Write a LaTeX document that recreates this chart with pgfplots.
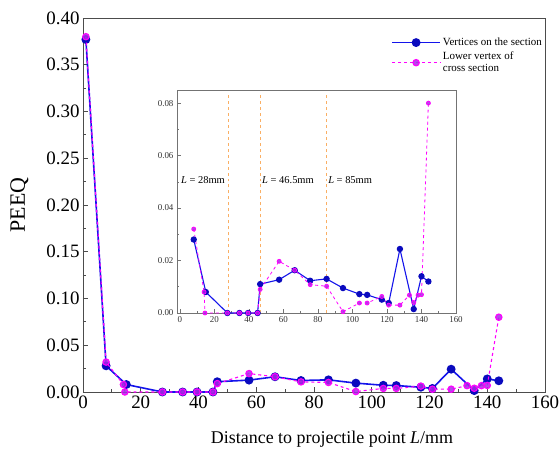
\documentclass[border=0pt]{standalone}
\usepackage{pgfplots}
\pgfplotsset{compat=1.18}
\usepackage{fontspec}
\setmainfont{Liberation Serif}
\definecolor{bluel}{RGB}{20,20,235}
\definecolor{bluem}{RGB}{10,10,190}
\definecolor{magl}{RGB}{255,0,255}
\definecolor{magm}{RGB}{170,40,230}
\definecolor{orl}{RGB}{250,175,100}
\begin{document}
\begin{tikzpicture}
\path[use as bounding box] (-83bp,-58bp) rectangle (477bp,392bp);
\begin{axis}[
  at={(0bp,0bp)}, anchor=south west,
  width=462bp, height=374bp, scale only axis,
  xmin=0, xmax=160, ymin=0, ymax=0.40,
  xtick={0,20,40,60,80,100,120,140,160},
  ytick={0,0.05,0.10,0.15,0.20,0.25,0.30,0.35,0.40},
  minor x tick num=1, minor y tick num=1,
  tick align=inside, xtick pos=left, ytick pos=left,
  major tick length=5bp, minor tick length=3bp,
  axis line style={black!70, line width=0.9bp},
  every tick/.style={black!70, line width=0.8bp},
  scaled ticks=false,
  /pgf/number format/assume math mode=true,
  tick label style={font=\fontsize{19}{20}\selectfont},
  yticklabel style={/pgf/number format/.cd, fixed, fixed zerofill, precision=2},
  xlabel={Distance to projectile point \textit{L}/mm},
  xlabel style={at={(axis description cs:0.539,-0.1364)}, anchor=base, font=\fontsize{18}{20}\selectfont},
  ylabel={PEEQ},
  ylabel style={at={(axis description cs:-0.1374,0.5)}, anchor=center, font=\fontsize{22}{24}\selectfont},
  clip mode=individual,
  legend style={at={(axis description cs:1,0.955)}, anchor=north east, draw=none, fill=none,
    font=\fontsize{11}{12}\selectfont, cells={align=left, anchor=west}, row sep=1bp, inner sep=1bp},
  legend image code/.code={\draw[mark repeat=2,mark phase=2] plot coordinates {(0bp,0bp) (24bp,0bp) (48bp,0bp)};},
]
\addplot[bluel, line width=1.6bp, mark=*, mark size=3.6bp, mark options={fill=bluem, draw=bluem}] coordinates {
(1,0.377) (8,0.028) (15,0.008) (27.5,0) (34.5,0) (39.5,0) (45,0) (46.5,0.011) (57.5,0.0127) (66.5,0.0163) (75.5,0.0123) (85,0.013) (94.5,0.0095) (104,0.0072) (108.5,0.0069) (117,0.0051) (121,0.0038) (127.5,0.0244) (135.5,0.0015) (140,0.014) (144,0.012)
};
\addlegendentry{Vertices on the section}
\addplot[magl, line width=1.1bp, dashed, mark=*, mark size=3.2bp, mark options={solid, fill=magm, draw=magl, fill opacity=0.85}] coordinates {
(1,0.38) (8,0.032) (14,0.008) (14.5,0) (27.5,0) (34.5,0) (39.5,0) (45,0) (46.5,0.009) (57.5,0.0197) (66.5,0.0163) (75.5,0.0108) (85,0.0102) (94.5,0.0005) (104,0.0038) (108.5,0.0038) (117,0.0063) (121,0.003) (127.5,0.003) (133,0.0068) (135.5,0.004) (138,0.0068) (140,0.007) (144,0.080)
};
\addlegendentry{Lower vertex of\\cross section}
\end{axis}
\begin{axis}[
  at={(94bp,79bp)}, anchor=south west,
  width=279bp, height=223bp, scale only axis,
  xmin=-1.7, xmax=160, ymin=0, ymax=0.085,
  xtick={0,20,40,60,80,100,120,140,160},
  ytick={0,0.02,0.04,0.06,0.08},
  minor x tick num=1, minor y tick num=1,
  tick align=inside, xtick pos=left, ytick pos=left,
  major tick length=3.5bp, minor tick length=2bp,
  axis line style={black!55, line width=0.8bp},
  every tick/.style={black!55, line width=0.6bp},
  axis background/.style={fill=white},
  scaled ticks=false,
  /pgf/number format/assume math mode=true,
  tick label style={font=\fontsize{9}{10}\selectfont, black!80},
  yticklabel style={/pgf/number format/.cd, fixed, fixed zerofill, precision=2},
  clip=false,
]
\addplot[orl, dashed, line width=0.7bp] coordinates {(28,0) (28,0.083)};
\addplot[orl, dashed, line width=0.7bp] coordinates {(46.5,0) (46.5,0.083)};
\addplot[orl, dashed, line width=0.7bp] coordinates {(85,0) (85,0.083)};
\addplot[bluel, line width=1.1bp, mark=*, mark size=2.6bp, mark options={fill=bluem, draw=bluem}] coordinates {
(8,0.028) (15,0.008) (27.5,0) (34.5,0) (39.5,0) (45,0) (46.5,0.011) (57.5,0.0127) (66.5,0.0163) (75.5,0.0123) (85,0.013) (94.5,0.0095) (104,0.0072) (108.5,0.0069) (117,0.0051) (121,0.0038) (127.5,0.0244) (135.5,0.0015) (140,0.014) (144,0.012)
};
\addplot[magl, line width=0.8bp, dashed, mark=*, mark size=2bp, mark options={solid, fill=magm, draw=magl, fill opacity=0.85}] coordinates {
(8,0.032) (14,0.008) (14.5,0) (27.5,0) (34.5,0) (39.5,0) (45,0) (46.5,0.009) (57.5,0.0197) (66.5,0.0163) (75.5,0.0108) (85,0.0102) (94.5,0.0005) (104,0.0038) (108.5,0.0038) (117,0.0063) (121,0.003) (127.5,0.003) (133,0.0068) (135.5,0.004) (138,0.0068) (140,0.007) (144,0.080)
};
\node[anchor=west, font=\fontsize{10.5}{12}\selectfont, inner sep=1bp] at (axis cs:0,0.0505) {\textit{L} = 28mm};
\node[anchor=west, font=\fontsize{10.5}{12}\selectfont, inner sep=1bp] at (axis cs:47,0.0505) {\textit{L} = 46.5mm};
\node[anchor=west, font=\fontsize{10.5}{12}\selectfont, inner sep=1bp] at (axis cs:85.3,0.0505) {\textit{L} = 85mm};
\end{axis}
\end{tikzpicture}
\end{document}
